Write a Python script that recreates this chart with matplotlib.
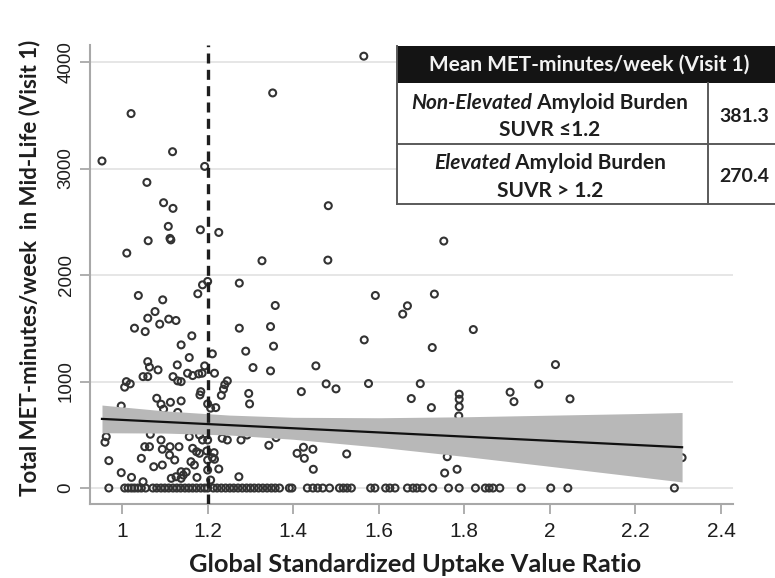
import matplotlib
matplotlib.use("Agg")
import matplotlib.pyplot as plt
from matplotlib.patches import Rectangle
from matplotlib.lines import Line2D

W, H = 775, 578

# points: SUVR vs MET-minutes/week
zero_x = [0.969, 1.006, 1.014, 1.022, 1.029, 1.037, 1.045, 1.055, 1.072, 1.081,
          1.091, 1.100, 1.109, 1.119, 1.128, 1.137, 1.147, 1.156, 1.165, 1.174,
          1.184, 1.193, 1.200, 1.213, 1.222, 1.232, 1.242, 1.252, 1.261, 1.271,
          1.281, 1.291, 1.300, 1.309, 1.319, 1.329, 1.339, 1.349, 1.358, 1.368,
          1.391, 1.397, 1.433, 1.446, 1.457, 1.469, 1.485, 1.508, 1.517, 1.526,
          1.536, 1.581, 1.591, 1.616, 1.626, 1.638, 1.667, 1.680, 1.689, 1.702,
          1.726, 1.763, 1.788, 1.826, 1.849, 1.858, 1.867, 1.883, 1.933, 2.002,
          2.042, 2.291]

pts_x = [1.565, 1.352, 1.021, 1.118, 0.953, 1.193, 1.058, 1.097, 1.119, 1.482,
         1.108, 1.183, 1.226, 1.061, 1.112, 1.114, 1.011, 1.327, 1.481, 1.752,
         1.200, 1.188, 1.274, 1.038, 1.095, 1.177, 1.592, 1.730, 1.667, 1.656,
         1.358, 1.821, 1.077, 1.060, 1.088, 1.109, 1.126, 1.029, 1.054, 1.163,
         1.274, 1.347, 1.566, 1.138, 1.354, 1.725, 1.289, 1.211, 1.157, 1.060,
         1.064, 1.084, 1.129, 1.193, 1.306, 1.347, 1.453, 2.013, 1.216, 1.049,
         1.060, 1.119, 1.130, 1.138, 1.153, 1.165, 1.179, 1.187, 1.010, 1.019,
         1.006, 1.246, 1.240, 1.237, 1.232, 1.296, 1.298, 1.419, 1.184, 1.477,
         1.500, 1.576, 1.697, 1.974, 1.676, 1.788, 1.788, 1.788, 1.787, 1.723,
         1.907, 1.916, 2.047, 1.081, 1.091, 1.097, 1.113, 1.138, 1.182, 0.998,
         1.200, 1.207, 1.219, 1.130, 0.963, 0.960, 1.066, 1.091, 1.157, 1.181,
         1.188, 1.200, 1.234, 1.246, 1.278, 1.292, 1.343, 1.360, 1.053, 1.064,
         1.094, 1.112, 1.133, 1.165, 1.174, 1.181, 1.198, 1.215, 1.211, 1.216,
         1.409, 1.424, 1.426, 1.446, 1.447, 1.525, 1.111, 1.123, 1.045, 0.969,
         1.161, 1.169, 1.074, 1.094, 0.998, 1.200, 1.200, 1.226, 1.115, 1.126,
         1.138, 1.143, 1.150, 1.022, 1.049, 1.138, 1.175, 1.273, 1.207, 1.760,
         1.754, 1.783, 2.309]
pts_y = [4055, 3710, 3516, 3158, 3071, 3020, 2870, 2679, 2626, 2651,
         2457, 2425, 2400, 2322, 2344, 2330, 2206, 2134, 2140, 2319,
         1940, 1908, 1924, 1808, 1767, 1824, 1808, 1821, 1711, 1633,
         1714, 1488, 1657, 1595, 1539, 1586, 1573, 1501, 1469, 1429,
         1501, 1516, 1391, 1344, 1332, 1319, 1285, 1260, 1225, 1187,
         1135, 1109, 1156, 1147, 1131, 1100, 1147, 1159, 1078, 1046,
         1046, 1046, 1006, 999, 1078, 1056, 1072, 1078, 999, 978,
         947, 1006, 971, 928, 870, 888, 790, 905, 905, 978,
         931, 981, 980, 975, 840, 881, 834, 764, 677, 755,
         900, 811, 837, 843, 787, 740, 805, 818, 874, 770,
         790, 750, 755, 710, 482, 430, 505, 451, 482, 498,
         451, 451, 467, 451, 451, 498, 401, 473, 388, 388,
         364, 388, 388, 373, 341, 326, 348, 332, 285, 270,
         326, 383, 279, 364, 176, 320, 310, 263, 279, 257,
         247, 216, 200, 216, 144, 263, 169, 179, 91, 106,
         153, 122, 150, 100, 59, 91, 100, 106, 75, 294,
         141, 176, 285]

# fitted line and its confidence band
fit_x = [0.953, 2.309]
fit_y = [649, 383]
band_x = [0.953, 1.1, 1.25, 1.4, 1.6, 1.8, 2.0, 2.2, 2.309]
band_hi = [779, 724, 685, 664, 660, 669, 684, 699, 709]
band_lo = [519, 516, 498, 458, 384, 297, 204, 109, 57]

cutoff = 1.2
x_ticks = [1, 1.2, 1.4, 1.6, 1.8, 2, 2.2, 2.4]
x_tick_labels = ["1", "1.2", "1.4", "1.6", "1.8", "2", "2.2", "2.4"]
y_ticks = [0, 1000, 2000, 3000, 4000]

table_title = "Mean MET-minutes/week (Visit 1)"
table_values = ["381.3", "270.4"]

label_font = ["Lato", "DejaVu Sans"]
tick_font = ["Liberation Sans Narrow", "Liberation Sans"]
ink = "#1e1e1e"


def fpos(x, y):
    return x / W, 1 - y / H


fig = plt.figure(figsize=(W / 100, H / 100), dpi=100)
ax = fig.add_axes([90 / W, 1 - 504 / H, (733 - 90) / W, (504 - 45) / H])

ax.scatter(zero_x, [0] * len(zero_x), s=25, facecolors="none",
           edgecolors="#333333", linewidths=1.5, zorder=2)
ax.scatter(pts_x, pts_y, s=25, facecolors="none",
           edgecolors="#333333", linewidths=1.5, zorder=2)
ax.fill_between(band_x, band_lo, band_hi, color="#b8b8b8", lw=0, zorder=3)
ax.plot(fit_x, fit_y, color="#111111", lw=1.6, zorder=4)
ax.axvline(cutoff, color="#1e1e1e", lw=2.4, dashes=(3, 1.9), zorder=5)

ax.set_xlim(0.925, 2.428)
ax.set_ylim(-150, 4160)
ax.set_xticks(x_ticks)
ax.set_xticklabels(x_tick_labels)
ax.set_yticks(y_ticks)
ax.set_yticklabels([str(v) for v in y_ticks])

ax.yaxis.grid(True, color="#e4e4e4", lw=1.3)
ax.set_axisbelow(True)
for s in ["top", "right"]:
    ax.spines[s].set_visible(False)
for s in ["left", "bottom"]:
    ax.spines[s].set_color("#a8a8a8")
    ax.spines[s].set_linewidth(1.5)
ax.tick_params(axis="both", color="#a8a8a8", length=7, width=1.3, labelcolor=ink)
ax.tick_params(axis="x", pad=6, labelsize=15)
ax.tick_params(axis="y", pad=4, labelsize=13.5, labelrotation=90)
for lbl in ax.get_xticklabels() + ax.get_yticklabels():
    lbl.set_family(tick_font)
for lbl in ax.get_yticklabels():
    lbl.set_va("center")

fig.text(*fpos(415, 564), "Global Standardized Uptake Value Ratio", ha="center", va="center",
         fontsize=18.3, fontweight="bold", family=label_font, color=ink)
fig.text(*fpos(30, 268), "Total MET-minutes/week  in Mid-Life (Visit 1)", ha="center", va="center",
         rotation=90, fontsize=16, fontweight="bold", family=label_font, color=ink)

# summary table in the top right corner
tl, tr, ttop, thead, tmid, tbot, tcol = 397, 790, 46, 83, 144, 204, 708
fig.patches.append(Rectangle(fpos(tl, tbot), (tr - tl) / W, (tbot - thead) / H,
                             transform=fig.transFigure, facecolor="white", edgecolor="none", zorder=10))
fig.patches.append(Rectangle(fpos(tl, thead), (tr - tl) / W, (thead - ttop) / H,
                             transform=fig.transFigure, facecolor="#141414", edgecolor="none", zorder=11))
for xs, ys in [((tl, tl), (ttop, tbot)), ((tl, tr), (tbot, tbot)), ((tl, tr), (tmid, tmid)),
               ((tcol, tcol), (thead, tbot))]:
    fig.lines.append(Line2D([x / W for x in xs], [1 - y / H for y in ys], transform=fig.transFigure,
                            color="#5a5a5a", lw=1.4, zorder=12))

fig.text(*fpos(589, 65), table_title, ha="center", va="center", color="#f2f2f2",
         fontsize=15, fontweight="bold", family=label_font, zorder=13)

renderer = fig.canvas.get_renderer()


def mixed_line(xc, yc, parts):
    texts = []
    for s, style in parts:
        t = fig.text(0, 0, s, ha="left", va="center", fontsize=15, fontweight="bold",
                     fontstyle=style, family=label_font, color=ink, zorder=13)
        texts.append(t)
    widths = [t.get_window_extent(renderer).width for t in texts]
    x = xc - sum(widths) / 2
    for t, w in zip(texts, widths):
        t.set_position(fpos(x, yc))
        x += w


mixed_line(550, 103, [("Non-Elevated", "italic"), (" Amyloid Burden", "normal")])
mixed_line(550, 130, [("SUVR \u22641.2", "normal")])
mixed_line(550, 163, [("Elevated", "italic"), (" Amyloid Burden", "normal")])
mixed_line(550, 191, [("SUVR > 1.2", "normal")])
for v, yc in zip(table_values, [116, 176]):
    fig.text(*fpos(744, yc), v, ha="center", va="center", fontsize=14, fontweight="bold",
             family=label_font, color=ink, zorder=13)

fig.savefig("out.png", dpi=100)
